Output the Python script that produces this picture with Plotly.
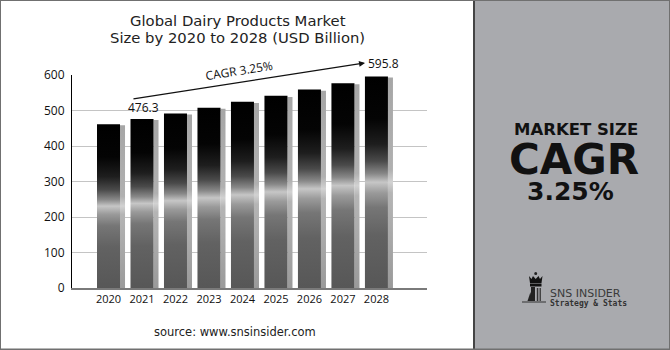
import plotly.graph_objects as go

# ---- data ----
years = ["2020", "2021", "2022", "2023", "2024", "2025", "2026", "2027", "2028"]
market_size = [461.3, 476.3, 491.8, 507.8, 524.3, 541.3, 558.9, 577.1, 595.8]
y_ticks = [0, 100, 200, 300, 400, 500, 600]
cagr_text = "CAGR 3.25%"
first_label = "476.3"
last_label = "595.8"

W, H = 670, 350
L, R, T, B = 72, 427, 75, 288  # plot area in pixels


def px(x):
    return (x - L) / (R - L)


def py(y):
    return (B - y) / (B - T)


bar_w = 0.687
shadow_w = 0.15

bar_cs = [
    [0.0, "#575757"], [0.25, "#626262"], [0.38, "#767676"], [0.45, "#9a9a9a"],
    [0.50, "#c6c6c6"], [0.54, "#888888"], [0.60, "#4a4a4a"], [0.68, "#1e1e1e"],
    [0.80, "#040404"], [1.0, "#000000"],
]
shadow_cs = [[0.0, "#9a9a9a"], [0.45, "#b5b5b5"], [0.5, "#d2d2d2"], [0.56, "#b0b0b0"], [1.0, "#a6a6a6"]]

fig = go.Figure()
for i, v in enumerate(market_size):
    x0, x1 = i - bar_w / 2, i + bar_w / 2
    fig.add_trace(go.Scatter(
        x=[x1, x1 + shadow_w, x1 + shadow_w, x1, x1], y=[0, 0, v - 3, v - 3, 0],
        fill="toself", mode="lines", line=dict(width=0),
        fillgradient=dict(type="vertical", colorscale=shadow_cs, start=0, stop=v),
        hoverinfo="skip", showlegend=False))
    fig.add_trace(go.Scatter(
        x=[x0, x1, x1, x0, x0], y=[0, 0, v, v, 0],
        fill="toself", mode="lines", line=dict(width=0),
        fillgradient=dict(type="vertical", colorscale=bar_cs, start=0, stop=v),
        hoverinfo="skip", showlegend=False))

xr0 = -1.09
xr1 = 9.51

fig.update_layout(
    width=W, height=H, margin=dict(l=L, r=W - R, t=T, b=H - B),
    paper_bgcolor="white", plot_bgcolor="white",
    font=dict(family="Open Sans", color="#111111"),
    xaxis=dict(range=[xr0, xr1], tickmode="array", tickvals=list(range(len(years))), ticktext=years,
               showgrid=False, zeroline=False, showline=True, linecolor="#7a7a7a", linewidth=2,
               ticks="", tickfont=dict(size=11, color="#111")),
    yaxis=dict(range=[0, 600], tickmode="array", tickvals=y_ticks, showgrid=True, gridcolor="#c4c4c4",
               gridwidth=1, zeroline=False, showline=True, linecolor="#000", linewidth=1,
               ticks="", ticklabelstandoff=4, tickfont=dict(size=12, color="#111")),
)


def note(text, x, y, size, family="DejaVu Sans", color="#111", xanchor="center", **kw):
    return dict(text=text, x=px(x), y=py(y), xref="paper", yref="paper", showarrow=False,
                xanchor=xanchor, yanchor="middle", font=dict(family=family, size=size, color=color), **kw)


ann = []
# titles
ann.append(note("Global Dairy Products Market", 237.5, 20.5, 14.8, color="#222"))
ann.append(note("Size by 2020 to 2028 (USD Billion)", 237, 37.5, 14.8, color="#222"))
# arrow
ann.append(dict(x=7.66, y=634, ax=0.70, ay=532, xref="x", yref="y", axref="x", ayref="y",
                showarrow=True, arrowhead=2, arrowsize=1, arrowwidth=1.2, arrowcolor="#111", text=""))
ann.append(note(cagr_text, 239, 70, 12, family="Open Sans", textangle=-9))
ann.append(dict(text=first_label, x=1.03, y=market_size[1], xref="x", yref="y", showarrow=False,
                xanchor="center", yanchor="bottom", yshift=1, font=dict(size=12, color="#111")))
ann.append(note(last_label, 383.5, 63, 12, family="Open Sans"))
# source
ann.append(note("source: www.snsinsider.com", 234.5, 331.5, 11.5, color="#222"))
# right panel text
ann.append(note("<b>MARKET SIZE</b>", 575.5, 129.5, 16.5))
ann.append(note("<b>CAGR</b>", 573.5, 159, 42))
ann.append(note("<b>3.25%</b>", 570, 191.5, 25))
# logo text
ann.append(note("SNS INSIDER", 548, 293.5, 11, color="#3a3a3a", xanchor="left"))
ann.append(note("<b>Strategy & Stats</b>", 548, 303, 8, family="DejaVu Sans Mono", color="#333", xanchor="left"))
fig.update_layout(annotations=ann)


def path(points):
    return "M " + " L ".join(f"{px(a):.5f},{py(b):.5f}" for a, b in points) + " Z"


shapes = []
# right panel
shapes.append(dict(type="rect", xref="paper", yref="paper", x0=px(474), x1=px(671), y0=py(-1), y1=py(351),
                   fillcolor="#a9aaae", line=dict(color="#454545", width=2), layer="below"))
# outer border
shapes.append(dict(type="rect", xref="paper", yref="paper", x0=px(0), x1=px(670), y0=py(349.5), y1=py(0),
                   fillcolor="rgba(0,0,0,0)", line=dict(color="#707070", width=2)))
# logo icon
shapes.append(dict(type="circle", xref="paper", yref="paper", x0=px(534.2), x1=px(537.2), y0=py(272), y1=py(275),
                   fillcolor="#222", line=dict(width=0)))
shapes.append(dict(type="path", xref="paper", yref="paper",
                   path=path([(529, 276), (531.5, 279), (533, 276), (535.7, 279), (538.5, 276), (540, 279),
                              (542.5, 276), (541.5, 283), (530, 283)]), fillcolor="#111", line=dict(width=0)))
shapes.append(dict(type="path", xref="paper", yref="paper",
                   path=path([(530, 283.5), (541.5, 283.5), (541.5, 286.5), (530, 286.5)]),
                   fillcolor="#111", line=dict(width=0)))
shapes.append(dict(type="path", xref="paper", yref="paper",
                   path=path([(531, 287), (535, 287), (535, 301), (531, 301)]), fillcolor="#222", line=dict(width=0)))
shapes.append(dict(type="path", xref="paper", yref="paper",
                   path=path([(527.5, 301), (530.5, 292), (532, 301)]), fillcolor="#222", line=dict(width=0)))
shapes.append(dict(type="path", xref="paper", yref="paper",
                   path=path([(536.8, 288), (538.3, 288), (538.3, 301), (536.8, 301)]), fillcolor="#333",
                   line=dict(width=0)))
shapes.append(dict(type="path", xref="paper", yref="paper",
                   path=path([(539.5, 288), (541, 288), (541, 301), (539.5, 301)]), fillcolor="#444",
                   line=dict(width=0)))
shapes.append(dict(type="line", xref="paper", yref="paper", x0=px(522), x1=px(546), y0=py(302), y1=py(302),
                   line=dict(color="#333", width=1)))
fig.update_layout(shapes=shapes)

fig.write_html("out.html")
